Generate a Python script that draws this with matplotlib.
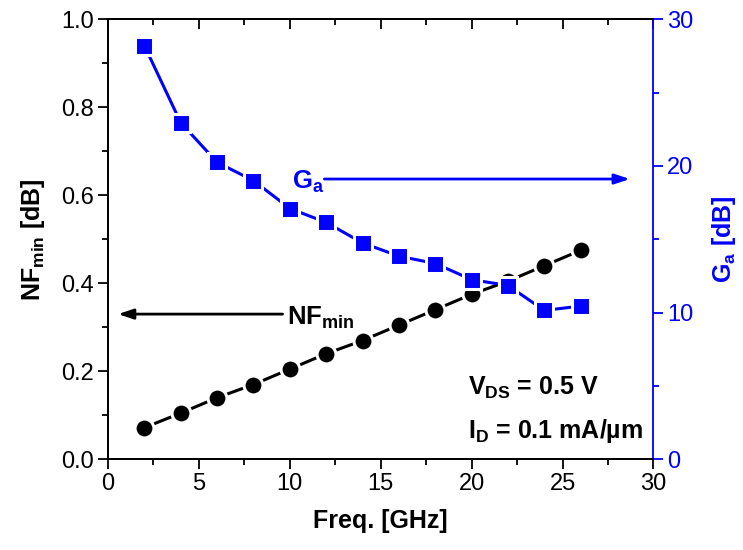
#!/usr/bin/env python3
"""NFmin and associated gain versus frequency (dual y axis)."""

import matplotlib

matplotlib.use("Agg")
import matplotlib.pyplot as plt
from matplotlib.ticker import MultipleLocator

FREQ_GHZ = [2, 4, 6, 8, 10, 12, 14, 16, 18, 20, 22, 24, 26]
NF_MIN_DB = [0.072, 0.105, 0.14, 0.17, 0.205, 0.24, 0.27, 0.305, 0.34, 0.375, 0.405, 0.44, 0.475]
GA_DB = [28.2, 22.95, 20.25, 19.0, 17.1, 16.15, 14.75, 13.85, 13.35, 12.25, 11.85, 10.15, 10.45]

BLUE = "#0000ff"

plt.rcParams["font.family"] = ["Liberation Sans", "DejaVu Sans"]
plt.rcParams["mathtext.fontset"] = "custom"
plt.rcParams["mathtext.rm"] = "Liberation Sans"
plt.rcParams["mathtext.bf"] = "Liberation Sans:bold"
plt.rcParams["axes.linewidth"] = 1.3

fig = plt.figure(figsize=(7.43, 5.5), dpi=100)
ax = fig.add_axes([0.1454, 0.1649, 0.7341, 0.8000])
ax2 = ax.twinx()

# NFmin (left axis) - white marker edge gives the gap between line and symbol
ax.plot(FREQ_GHZ, NF_MIN_DB, color="black", linewidth=2.2, zorder=2)
ax.plot(FREQ_GHZ, NF_MIN_DB, linestyle="none", marker="o", markersize=13.6,
        markerfacecolor="black", markeredgecolor="white", markeredgewidth=2.2, zorder=3)

# Ga (right axis)
ax2.plot(FREQ_GHZ, GA_DB, color=BLUE, linewidth=2.2, zorder=2)
ax2.plot(FREQ_GHZ, GA_DB, linestyle="none", marker="s", markersize=12.4,
         markerfacecolor=BLUE, markeredgecolor="white", markeredgewidth=2.2, zorder=3)

ax.set_xlim(0, 30)
ax.set_ylim(0, 1.0)
ax2.set_ylim(0, 30)

ax.xaxis.set_major_locator(MultipleLocator(5))
ax.xaxis.set_minor_locator(MultipleLocator(2.5))
ax.yaxis.set_major_locator(MultipleLocator(0.2))
ax.yaxis.set_minor_locator(MultipleLocator(0.1))
ax2.yaxis.set_major_locator(MultipleLocator(10))
ax2.yaxis.set_minor_locator(MultipleLocator(5))
ax.yaxis.set_major_formatter(matplotlib.ticker.FormatStrFormatter("%.1f"))

ax.tick_params(axis="both", which="major", direction="out", length=7, width=1.3,
               labelsize=17, pad=3)
ax.tick_params(axis="both", which="minor", direction="out", length=4, width=1.3)
ax2.tick_params(axis="y", which="major", direction="out", length=7, width=1.3,
                labelsize=17, colors=BLUE, pad=3)
ax2.tick_params(axis="y", which="minor", direction="out", length=4, width=1.3, colors=BLUE)
ax2.spines["right"].set_color(BLUE)
ax.spines["right"].set_visible(False)

# inward ticks on the top edge
top = ax.secondary_xaxis("top")
top.xaxis.set_major_locator(MultipleLocator(5))
top.xaxis.set_minor_locator(MultipleLocator(2.5))
top.tick_params(axis="x", which="both", direction="in", labeltop=False, width=1.3)
top.tick_params(axis="x", which="major", length=7)
top.tick_params(axis="x", which="minor", length=4)

ax.set_xlabel("Freq. [GHz]", fontsize=18, fontweight="bold", labelpad=10)
ax.set_ylabel(r"$\mathbf{NF_{min}}$ [dB]", fontsize=18, fontweight="bold", labelpad=10)
ax2.set_ylabel(r"$\mathbf{G_a}$ [dB]", fontsize=18, fontweight="bold", color=BLUE,
               labelpad=12)

# arrows pointing to the respective axes
ax.annotate("", xy=(28.7, 0.637), xytext=(11.9, 0.637),
            arrowprops=dict(arrowstyle="-|>,head_length=0.9,head_width=0.3",
                            color=BLUE, lw=2, shrinkA=0, shrinkB=0))
ax.text(10.1, 0.614, r"$\mathbf{G_a}$", color=BLUE, fontsize=18.5, va="baseline")
ax.annotate("", xy=(0.55, 0.330), xytext=(9.6, 0.330),
            arrowprops=dict(arrowstyle="-|>,head_length=0.9,head_width=0.3",
                            color="black", lw=2, shrinkA=0, shrinkB=0))
ax.text(9.87, 0.305, r"$\mathbf{NF_{min}}$", color="black", fontsize=18.5, va="baseline")

ax.text(19.8, 0.147, r"$\mathbf{V_{DS}}$ = 0.5 V", fontsize=18, fontweight="bold",
        va="baseline")
ax.text(19.8, 0.048, r"$\mathbf{I_D}$ = 0.1 mA/µm", fontsize=18, fontweight="bold",
        va="baseline")

fig.savefig("out.png", dpi=100)
